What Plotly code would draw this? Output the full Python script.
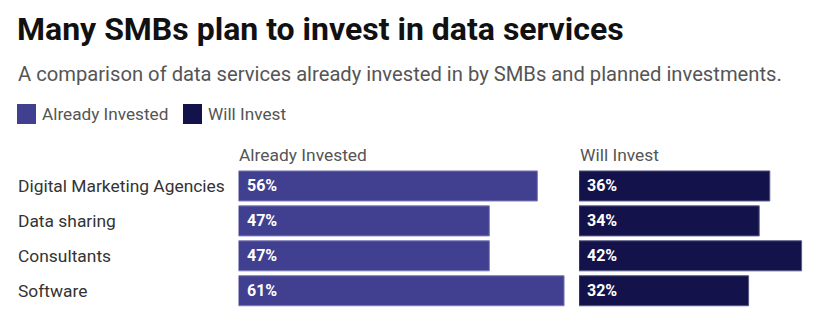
import plotly.graph_objects as go

categories = ["Digital Marketing Agencies", "Data sharing", "Consultants", "Software"]
already_invested = [56, 47, 47, 61]
will_invest = [36, 34, 42, 32]
series_names = ["Already Invested", "Will Invest"]
colors = ["#413F8F", "#13124A"]

W, H = 820, 336
def px(x):
    return x / W
def py(y):
    return 1 - y / H

fig = go.Figure()
fig.add_trace(go.Bar(y=categories, x=already_invested, orientation="h", name=series_names[0],
                     marker=dict(color=colors[0], line=dict(color="#7d7bb5", width=1)),
                     width=0.86, xaxis="x", yaxis="y", showlegend=False, hoverinfo="x+y"))
fig.add_trace(go.Bar(y=categories, x=will_invest, orientation="h", name=series_names[1],
                     marker=dict(color=colors[1], line=dict(color="#5a5a86", width=1)),
                     width=0.86, xaxis="x2", yaxis="y2", showlegend=False, hoverinfo="x+y"))

ann = []
font_family = "Roboto, Arial, sans-serif"
# title & subtitle
ann.append(dict(text="<b>Many SMBs plan to invest in data services</b>", x=px(15), y=py(29),
                xref="paper", yref="paper", xanchor="left", yanchor="middle", showarrow=False,
                font=dict(family=font_family, size=32, color="#111111")))
ann.append(dict(text="A comparison of data services already invested in by SMBs and planned investments.",
                x=px(16), y=py(74), xref="paper", yref="paper", xanchor="left", yanchor="middle",
                showarrow=False, font=dict(family=font_family, size=20.2, color="#555555")))
# legend
shapes = []
leg_x = [17, 183]
for i, name in enumerate(series_names):
    shapes.append(dict(type="rect", xref="paper", yref="paper", x0=px(leg_x[i]), x1=px(leg_x[i] + 19),
                       y0=py(124), y1=py(104), fillcolor=colors[i], line=dict(width=0)))
    ann.append(dict(text=name, x=px(leg_x[i] + 23), y=py(114), xref="paper", yref="paper",
                    xanchor="left", yanchor="middle", showarrow=False,
                    font=dict(family=font_family, size=17.2, color="#555555")))
# column headers
ann.append(dict(text=series_names[0], x=px(237), y=py(155), xref="paper", yref="paper",
                xanchor="left", yanchor="middle", showarrow=False,
                font=dict(family=font_family, size=17.4, color="#555555")))
ann.append(dict(text=series_names[1], x=px(578), y=py(155), xref="paper", yref="paper",
                xanchor="left", yanchor="middle", showarrow=False,
                font=dict(family=font_family, size=17.4, color="#555555")))
# category labels
for c in categories:
    ann.append(dict(text=c, x=px(16), y=c, xref="paper", yref="y", xanchor="left", yanchor="middle",
                    showarrow=False, font=dict(family=font_family, size=17.4, color="#333333")))
# bar value labels
for c, v in zip(categories, already_invested):
    ann.append(dict(text=f"<b>{v}%</b>", x=0, y=c, xref="x", yref="y", xanchor="left", yanchor="middle",
                    xshift=6, showarrow=False, font=dict(family=font_family, size=16, color="white")))
for c, v in zip(categories, will_invest):
    ann.append(dict(text=f"<b>{v}%</b>", x=0, y=c, xref="x2", yref="y2", xanchor="left", yanchor="middle",
                    xshift=6, showarrow=False, font=dict(family=font_family, size=16, color="white")))

left0, left1 = 238.5, 575
right0, right1 = 579, 818
s1, s2 = 5.337, 5.30
ydom = [py(308.2), py(168.5)]

fig.update_layout(
    width=W, height=H, margin=dict(l=0, r=0, t=0, b=0),
    paper_bgcolor="white", plot_bgcolor="white",
    barmode="overlay", annotations=ann, shapes=shapes,
    xaxis=dict(domain=[px(left0), px(left1)], range=[0, (left1 - left0) / s1], visible=False, fixedrange=True),
    xaxis2=dict(domain=[px(right0), px(right1)], range=[0, (right1 - right0) / s2], visible=False, fixedrange=True),
    yaxis=dict(domain=ydom, categoryorder="array", categoryarray=categories, autorange="reversed",
               visible=False, anchor="x"),
    yaxis2=dict(domain=ydom, categoryorder="array", categoryarray=categories, autorange="reversed",
                visible=False, anchor="x2"),
    font=dict(family=font_family),
)

fig.write_html("out.html")
